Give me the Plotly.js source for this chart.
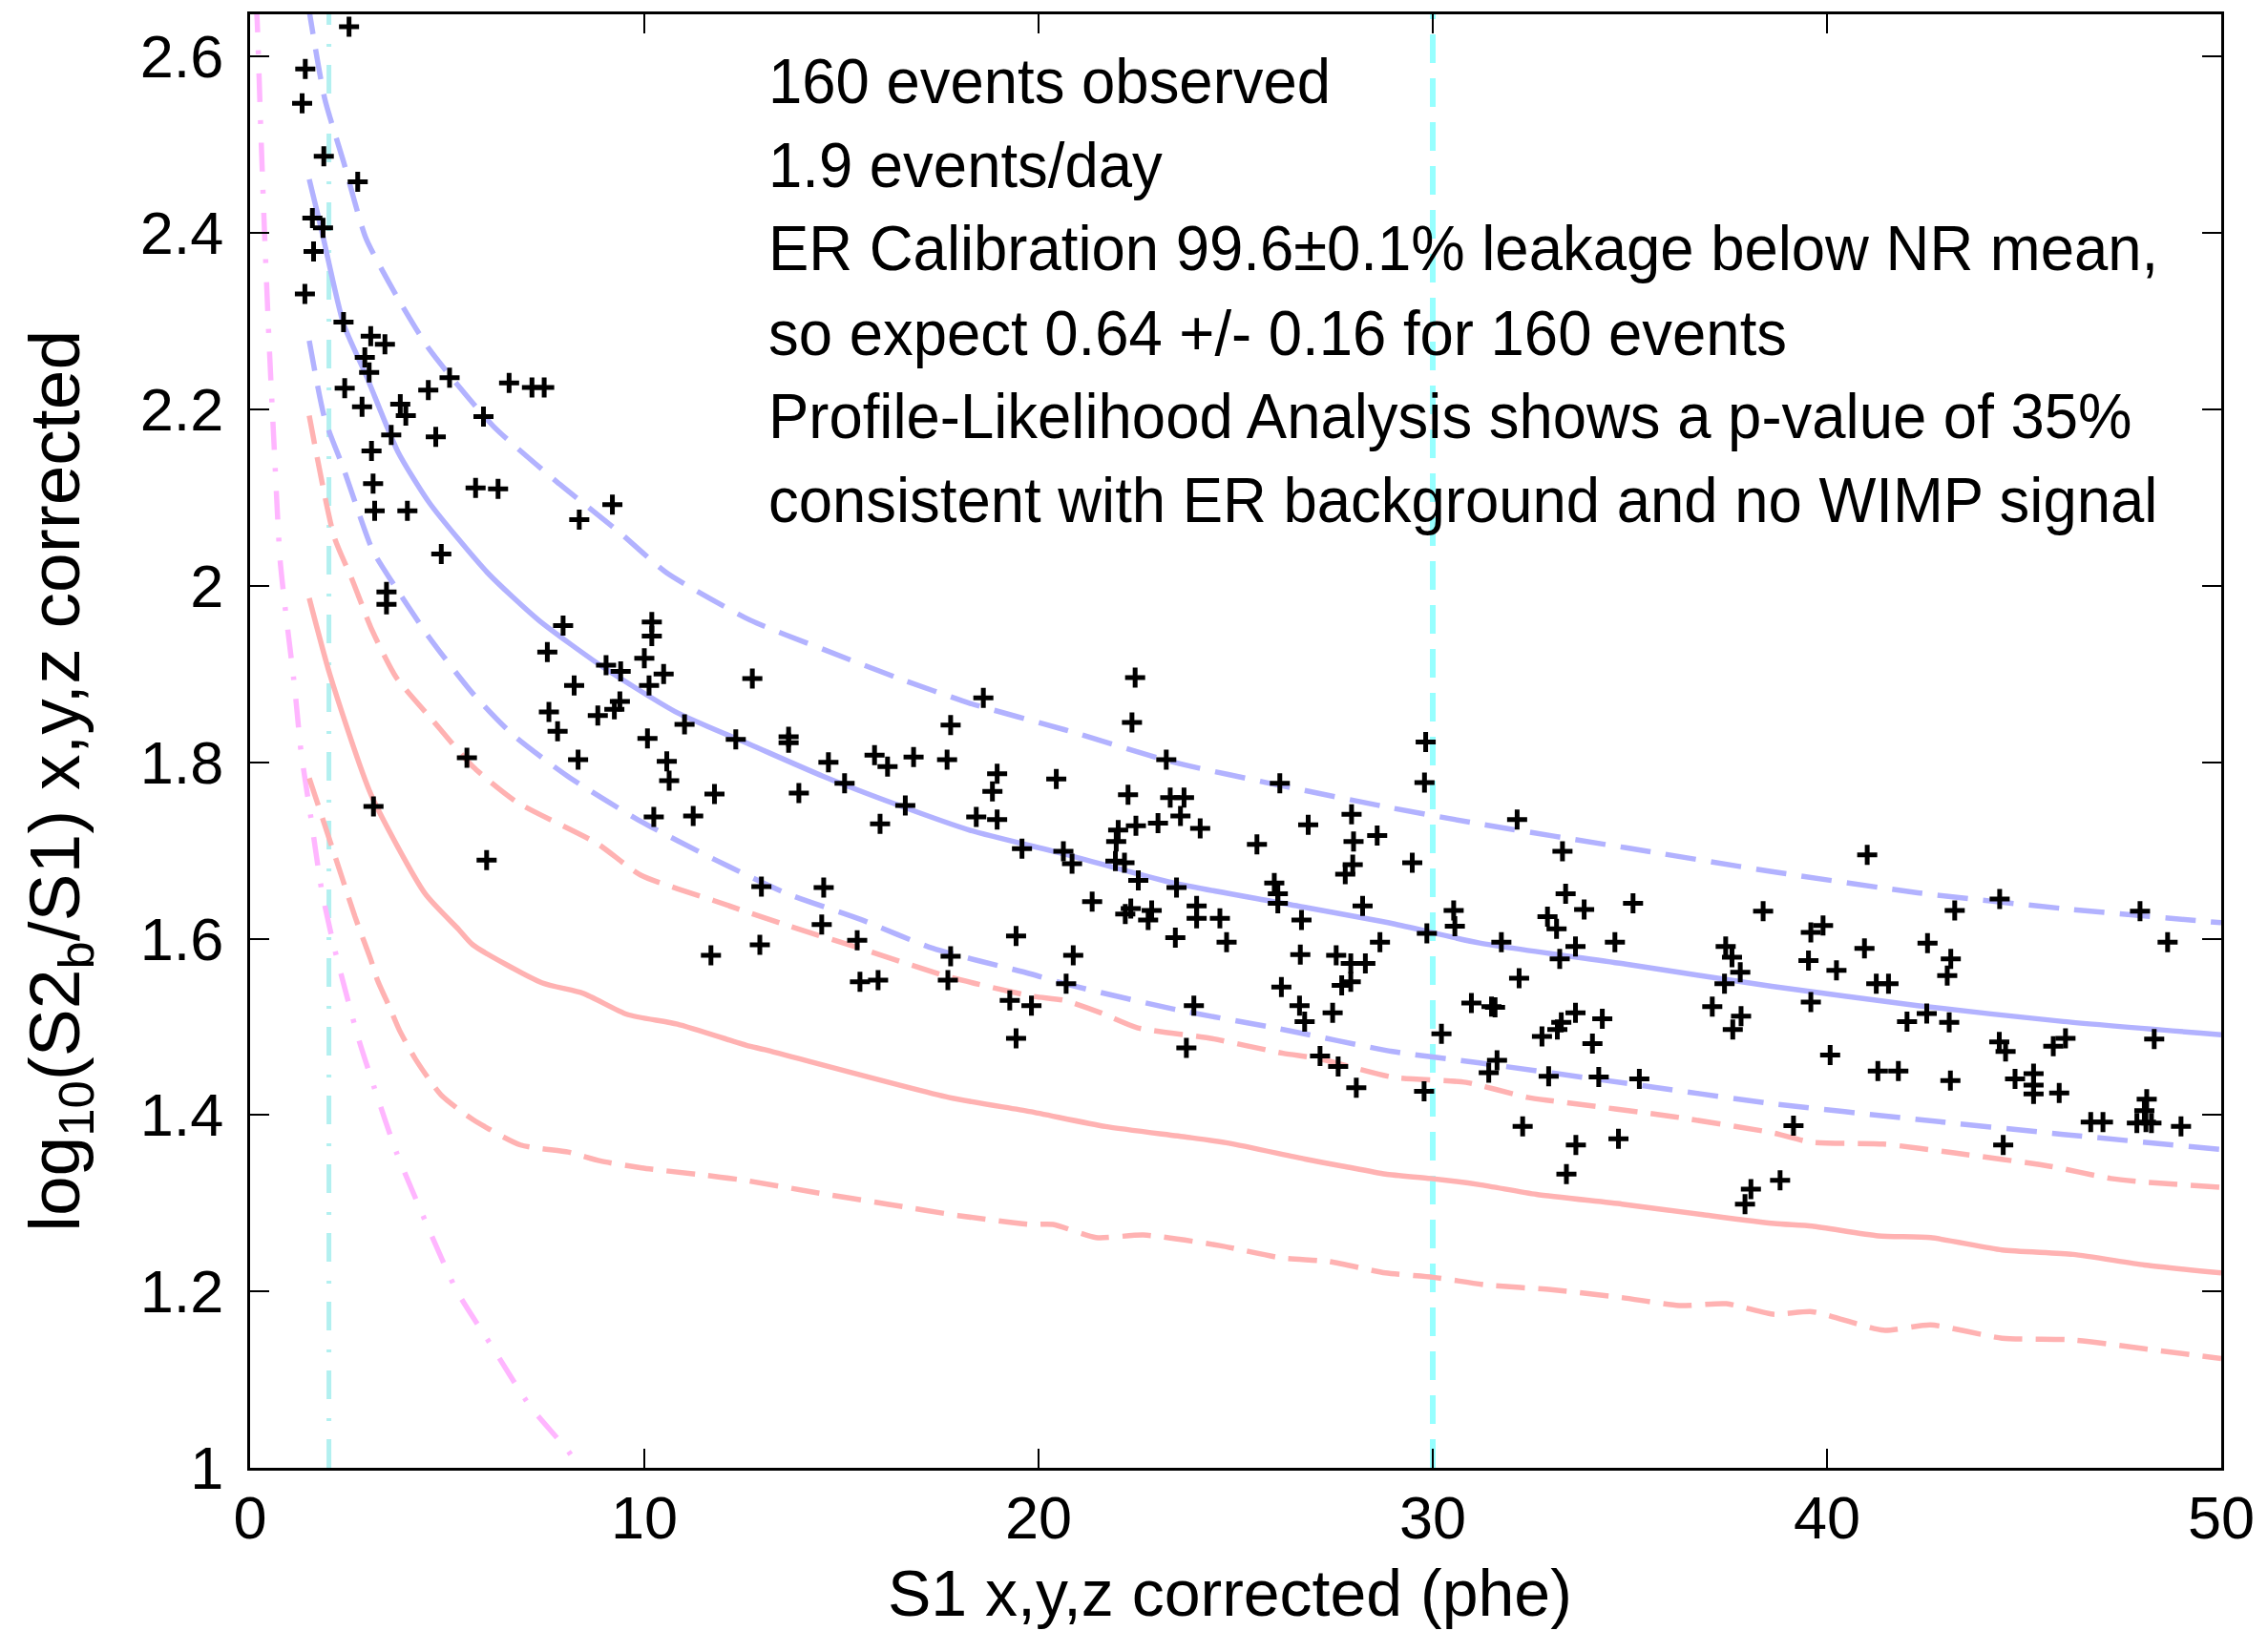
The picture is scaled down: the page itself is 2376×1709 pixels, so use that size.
<!DOCTYPE html>
<html><head><meta charset="utf-8">
<script src="https://cdn.plot.ly/plotly-3.0.1.min.js"></script>
<style>html,body{margin:0;padding:0;background:#fff}#chart{width:2376px;height:1709px}</style>
</head><body><div id="chart"></div>
<script>
// ---- events (S1 phe, log10(S2b/S1)) ----
const eventS1 = [
2.51,1.40,1.32,1.87,2.73,1.58,1.85,1.61,1.39,2.37,3.06,3.42,2.91,3.02,2.40,4.52,5.06,6.57,7.15,7.46,
2.84,3.81,3.95,5.92,3.58,4.71,3.08,3.12,5.72,6.29,3.16,3.99,9.19,8.35,4.85,3.46,3.46,7.94,7.54,10.19,
10.19,10.00,9.03,5.50,3.13,6.00,
9.40,10.49,12.74,18.60,8.22,10.12,9.38,9.24,7.58,8.82,7.80,11.02,17.77,10.08,12.32,13.66,13.66,8.32,10.57,14.67,
15.84,16.17,16.83,17.68,18.95,18.83,10.63,15.08,11.78,13.92,16.62,10.24,11.24,15.98,18.42,18.95,19.58,12.97,14.55,14.50,
15.40,12.93,11.69,19.43,17.77,15.47,15.93,17.70,19.27,19.82,19.43,
22.45,22.37,23.24,29.82,20.45,26.12,29.79,22.27,23.34,23.69,22.47,23.03,23.60,24.10,22.02,21.97,26.84,27.94,28.59,27.99,
25.54,32.14,20.63,20.85,21.95,22.18,29.48,27.97,27.78,22.53,23.50,25.98,26.07,26.07,21.36,22.34,22.20,22.87,22.78,24.01,
24.01,24.60,26.67,28.22,30.53,30.56,29.85,31.74,23.47,24.77,28.66,20.88,26.64,27.55,27.92,28.29,27.69,27.92,32.19,20.70,
26.16,23.94,26.62,26.75,27.46,30.98,31.49,31.58,30.22,23.75,27.14,27.60,31.63,31.42,28.06,29.78,32.28,
33.29,41.02,33.37,33.84,35.08,38.38,44.38,43.24,47.94,32.91,33.14,39.90,39.59,33.62,34.62,33.22,37.43,37.59,37.80,37.40,
40.95,42.55,39.53,40.24,43.14,43.05,48.64,41.25,41.56,39.59,37.09,33.62,34.30,33.26,33.16,37.82,37.61,42.03,42.53,43.10,
32.77,34.05,44.37,44.53,46.05,45.74,48.30,40.08,32.94,34.21,35.24,41.29,41.81,43.13,44.77,45.24,45.24,45.24,45.89,48.11,
48.05,48.09,47.86,48.23,46.69,47.00,48.98,39.15,33.63,34.71,44.47,33.39,38.07,37.92,38.81
];
const eventLogRatio = [
2.634,2.586,2.547,2.487,2.458,2.417,2.406,2.379,2.331,2.299,2.283,2.274,2.259,2.242,2.224,2.222,2.236,2.230,2.225,2.225,
2.203,2.206,2.193,2.192,2.171,2.169,2.153,2.116,2.111,2.110,2.085,2.085,2.092,2.075,2.036,1.993,1.979,1.955,1.925,1.959,
1.943,1.918,1.910,1.805,1.750,1.689,
1.903,1.900,1.895,1.873,1.887,1.887,1.869,1.860,1.857,1.853,1.835,1.843,1.842,1.827,1.826,1.829,1.822,1.803,1.801,1.800,
1.808,1.795,1.806,1.803,1.787,1.767,1.779,1.776,1.764,1.765,1.751,1.738,1.739,1.730,1.738,1.735,1.702,1.659,1.658,1.616,
1.598,1.593,1.581,1.603,1.580,1.551,1.553,1.553,1.530,1.524,1.487,
1.896,1.845,1.803,1.823,1.781,1.776,1.777,1.763,1.760,1.760,1.728,1.731,1.739,1.725,1.723,1.710,1.729,1.741,1.717,1.710,
1.707,1.735,1.699,1.685,1.688,1.686,1.686,1.684,1.673,1.666,1.658,1.663,1.651,1.640,1.642,1.634,1.628,1.632,1.621,1.637,
1.623,1.623,1.621,1.637,1.632,1.614,1.606,1.596,1.601,1.596,1.596,1.581,1.582,1.581,1.572,1.572,1.547,1.551,1.555,1.549,
1.545,1.524,1.524,1.506,1.516,1.527,1.523,1.522,1.492,1.476,1.467,1.455,1.462,1.448,1.431,1.427,1.387,
1.699,1.695,1.651,1.633,1.640,1.631,1.645,1.632,1.631,1.625,1.611,1.615,1.607,1.591,1.596,1.577,1.591,1.579,1.562,1.549,
1.589,1.595,1.575,1.564,1.577,1.558,1.596,1.549,1.549,1.528,1.523,1.516,1.509,1.505,1.497,1.512,1.497,1.506,1.515,1.505,
1.489,1.481,1.483,1.472,1.487,1.478,1.486,1.468,1.444,1.443,1.441,1.450,1.450,1.439,1.441,1.447,1.434,1.424,1.425,1.418,
1.405,1.392,1.391,1.391,1.392,1.392,1.387,1.388,1.366,1.373,1.366,1.333,1.316,1.299,1.326
];

// ---- ER band (blue) ----
const erMeanS1 = [1.5,1.81,2.37,2.94,3.75,4.55,6.02,7.32,8.98,10.84,12.69,14.54,16.4,18.25,20.65,23.43,26.2,28.98,31.19,34.9,38.6,42.3,46,50];
const erMeanY  = [2.461,2.404,2.297,2.239,2.152,2.094,2.015,1.961,1.907,1.856,1.82,1.784,1.752,1.723,1.696,1.663,1.64,1.617,1.595,1.571,1.546,1.524,1.506,1.491];
const erUpperS1 = [1.47,1.89,2.37,2.94,3.75,4.55,6.17,7.78,9.39,10.56,12.69,14.54,16.4,18.25,20.65,23.43,26.2,28.98,31.19,34.9,38.6,42.3,46,50];
const erUpperY  = [2.66,2.553,2.481,2.394,2.326,2.268,2.181,2.118,2.06,2.015,1.961,1.928,1.896,1.867,1.837,1.80,1.773,1.748,1.73,1.703,1.676,1.652,1.634,1.618];
const erLowerS1 = [1.5,1.89,2.37,3.1,3.55,4.52,5.65,6.67,8.06,9.91,11.77,13.62,15.47,17.32,19.8,20.65,23.43,26.2,28.98,31.19,34.9,38.6,42.3,46,50];
const erLowerY  = [2.278,2.19,2.133,2.041,2.008,1.943,1.878,1.831,1.784,1.733,1.69,1.651,1.622,1.589,1.56,1.549,1.52,1.497,1.472,1.459,1.436,1.413,1.395,1.378,1.361];

// ---- NR band (red) ----
const nrMeanS1 = [1.5,2.02,3.07,4.44,5.28,5.65,7.4,8.45,9.57,10.84,12.59,13.06,17.72,19.77,21.7,23.75,24.83,26.76,27.72,28.8,29.95,31.19,32.63,34.8,36.85,38.66,39.62,41.3,42.63,44.44,46.24,48.05,50];
const nrMeanY  = [1.986,1.90,1.763,1.651,1.611,1.593,1.55,1.538,1.514,1.503,1.479,1.474,1.420,1.404,1.387,1.375,1.368,1.35,1.342,1.333,1.328,1.321,1.310,1.299,1.287,1.277,1.274,1.263,1.261,1.247,1.242,1.23,1.221];
const nrUpperS1 = [1.5,2.13,2.58,3.1,3.71,4.68,5.65,6.76,8.8,9.91,11.77,13.62,15.47,17.7,19.8,20.65,21.57,22.5,24.36,26.2,27.1,28.98,30.84,32.4,33.04,36.13,38.6,39.62,41.43,43.23,45.64,47.2,48.05,50];
const nrUpperY  = [2.193,2.056,2.008,1.949,1.896,1.845,1.795,1.755,1.708,1.672,1.643,1.615,1.589,1.557,1.535,1.530,1.516,1.499,1.487,1.47,1.464,1.443,1.437,1.42,1.416,1.398,1.38,1.369,1.367,1.357,1.342,1.328,1.324,1.318];
const nrLowerS1 = [1.5,2.18,2.66,3.07,3.23,3.55,3.79,4.2,4.84,5.65,6.86,8.07,8.88,9.93,11.3,12.54,14.23,16.16,17.96,19.77,20.37,21.46,22.66,24.59,26.16,27.36,28.8,30.01,31.43,32.99,34.8,36.25,37.45,38.66,39.62,41.43,42.63,44.44,46.24,48.05,50];
const nrLowerY  = [1.782,1.69,1.625,1.575,1.553,1.521,1.496,1.463,1.423,1.395,1.366,1.358,1.348,1.34,1.333,1.326,1.313,1.299,1.286,1.276,1.276,1.261,1.264,1.252,1.238,1.234,1.221,1.216,1.207,1.202,1.193,1.184,1.186,1.174,1.177,1.156,1.162,1.147,1.145,1.135,1.124];

// ---- threshold curve (pink) ----
const threshS1 = [0.15,0.18,0.27,0.36,0.48,0.60,0.76,0.89,1.13,1.29,1.53,1.82,2.14,2.74,3.15,3.71,4.52,5.25,6.13,7.1,8.07,8.35];
const threshY  = [2.66,2.641,2.519,2.408,2.278,2.167,2.03,1.975,1.885,1.813,1.741,1.654,1.589,1.488,1.431,1.358,1.272,1.2,1.138,1.07,1.019,1.0];

// ---- analysis window ----
const windowS1 = [2, 30];

// ---- axes ----
const xTickVals = [0,10,20,30,40,50];
const xTickText = ['0','10','20','30','40','50'];
const yTickVals = [1,1.2,1.4,1.6,1.8,2,2.2,2.4,2.6];
const yTickText = ['1','1.2','1.4','1.6','1.8','2','2.2','2.4','2.6'];

const noteLines = [
  '160 events observed',
  '1.9 events/day',
  'ER Calibration 99.6\u00B10.1% leakage below NR mean,',
  'so expect 0.64 +/- 0.16 for 160 events',
  'Profile-Likelihood Analysis shows a p-value of 35%',
  'consistent with ER background and no WIMP signal'
];

const BLUE = 'rgb(178,178,255)', RED = 'rgb(255,178,178)', PINK = 'rgb(255,182,255)';
const W = 5.5;
function line(x, y, color, dash) {
  return {x, y, type:'scatter', mode:'lines', hoverinfo:'skip',
          line:{color, width:W, dash, shape:'spline', smoothing:0.6}};
}
const Y0 = 1, Y1 = 2.648;
const traces = [
  {x:[windowS1[0],windowS1[0]], y:[Y0,Y1], type:'scatter', mode:'lines', line:{color:'rgb(178,240,240)', width:5, dash:'30px,19px,3px,20px'}},
  {x:[windowS1[1],windowS1[1]], y:[Y0,Y1], type:'scatter', mode:'lines', line:{color:'rgb(150,255,255)', width:6, dash:'30px,16px'}},
  line(threshS1, threshY, PINK, '30px,19px,4px,20px'),
  line(nrMeanS1, nrMeanY, RED, 'solid'),
  line(nrUpperS1, nrUpperY, RED, '30px,14px'),
  line(nrLowerS1, nrLowerY, RED, '30px,14px'),
  line(erMeanS1, erMeanY, BLUE, 'solid'),
  line(erUpperS1, erUpperY, BLUE, '32px,16px'),
  line(erLowerS1, erLowerY, BLUE, '32px,16px'),
  {x:eventS1, y:eventLogRatio, type:'scatter', mode:'markers',
   marker:{symbol:'cross-thin', size:15, color:'black', line:{color:'black', width:5}}}
];

const FONT = 'Liberation Sans, Arial, sans-serif';
const NOTE_SIZE = 67, SQUEEZE = 0.947;
const pxPerY = 924, yTopPx = 59.5; // y=2.6 at 59.5px
function yAt(px){ return 2.6 - (px - yTopPx)/pxPerY; }
const baselines = [108,196,283,372,459,547];
const annotations = noteLines.map((t,i)=>({
  text:t, xref:'x', yref:'y', x:13.1, y:yAt(baselines[i]-23), xanchor:'left', yanchor:'middle', align:'left',
  showarrow:false, font:{family:FONT, size:NOTE_SIZE, color:'black'}
}));
annotations.push({text:'log<sub>10</sub>(S2<sub>b</sub>/S1) x,y,z corrected', xref:'paper', yref:'paper',
  x:-0.097, y:0.4727, xanchor:'center', yanchor:'middle', textangle:-90, showarrow:false,
  font:{family:FONT, size:75, color:'black'}});
annotations.push({text:'S1 x,y,z corrected (phe)', xref:'paper', yref:'paper',
  x:0.497, y:-0.086, xanchor:'center', yanchor:'middle', showarrow:false,
  font:{family:FONT, size:68, color:'black'}});

const axisCommon = {showline:true, linecolor:'black', linewidth:3, mirror:'ticks', ticks:'inside',
  ticklen:20, tickwidth:2, tickcolor:'black', showgrid:false, zeroline:false,
  tickfont:{family:FONT, size:63, color:'black'}, tickmode:'array'};

const layout = {
  width:2376, height:1709, showlegend:false,
  margin:{l:262, r:49, t:15, b:171, pad:0},
  paper_bgcolor:'white', plot_bgcolor:'white',
  xaxis:Object.assign({}, axisCommon, {range:[0,50], tickvals:xTickVals, ticktext:xTickText, ticklabelstandoff:-5}),
  yaxis:Object.assign({}, axisCommon, {range:[Y0,Y1], tickvals:yTickVals, ticktext:yTickText, ticklabelstandoff:12}),
  annotations
};
Plotly.newPlot('chart', traces, layout, {staticPlot:true}).then(function(gd){
  // the reference's note text is a slightly condensed face: squeeze the glyphs horizontally
  const groups = gd.querySelectorAll('.annotation');
  groups.forEach(function(g, i){
    if (i >= noteLines.length) return;
    const t = g.querySelector('text.annotation-text');
    if (!t) return;
    const len = t.getComputedTextLength();
    const newLen = len * SQUEEZE;
    t.setAttribute('textLength', newLen.toFixed(1));
    t.setAttribute('lengthAdjust', 'spacingAndGlyphs');
    g.querySelectorAll('rect').forEach(function(r){
      if (r.hasAttribute('width')) r.setAttribute('width', (newLen + 2).toFixed(1));
    });
  });
});
</script></body></html>
